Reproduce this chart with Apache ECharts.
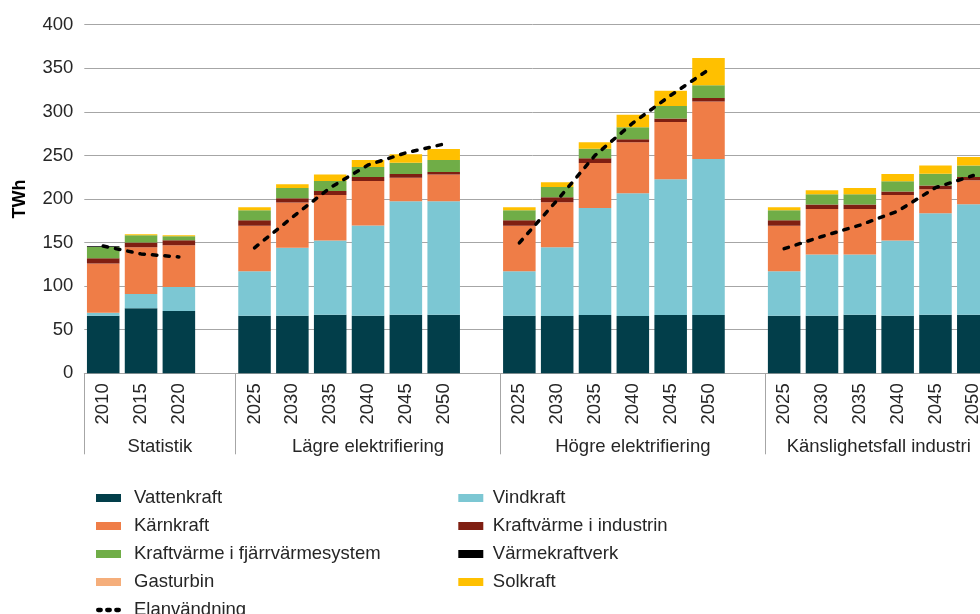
<!DOCTYPE html>
<html><head><meta charset="utf-8">
<script src="https://cdn.jsdelivr.net/npm/echarts@6/dist/echarts.min.js"></script>
<style>html,body{margin:0;padding:0;background:#fff}#c{width:980px;height:614px}</style>
</head><body><div id="c"></div>
<script>
// ---- data ----
const groupNames = ['Statistik', 'Lägre elektrifiering', 'Högre elektrifiering', 'Känslighetsfall industri'];
const groupYears = [
  ['2010', '2015', '2020'],
  ['2025', '2030', '2035', '2040', '2045', '2050'],
  ['2025', '2030', '2035', '2040', '2045', '2050'],
  ['2025', '2030', '2035', '2040', '2045', '2050']
];
// values per bar, groups in order (3 + 6 + 6 + 6)
const vattenkraft = [66, 74.5, 71.4,  66, 66, 67.2, 66, 67.2, 67.2,  66, 65.7, 66.8, 65.7, 66.8, 66.8,  66, 66, 67.2, 66, 67.2, 67.2];
const vindkraft   = [3.5, 16.5, 27.6,  51.2, 78, 85.2, 103.6, 130.2, 130.2,  51.2, 79, 123, 140.9, 155.8, 179.1,  51.2, 70.3, 69.1, 86.4, 116.5, 126.8];
const karnkraft   = [56.5, 53.7, 48,  52, 51.9, 52.3, 51.1, 27.1, 30.6,  52, 51.6, 51.6, 58.4, 65.7, 66.1,  52, 52.3, 52.3, 52.3, 27.5, 27.5];
const kvIndustri  = [6, 5.5, 5.7,  6.5, 5, 4.6, 4.6, 4.3, 3,  6.5, 5.7, 5.3, 3.5, 4.2, 3.8,  6.5, 5, 5, 3.8, 4.2, 3.8];
const kvFjarrvarme= [12.8, 8.3, 4.6,  11.4, 11.8, 11.4, 11.5, 12.9, 13.8,  11.4, 11.9, 11.1, 13.7, 14.2, 14.6,  11.4, 11.9, 11.9, 11.9, 13.7, 13];
const varmekraftverk = [1, 0, 0,  0, 0, 0, 0, 0, 0,  0, 0, 0, 0, 0, 0,  0, 0, 0, 0, 0, 0];
const gasturbin   = [0, 0, 0,  0, 0, 0, 0, 0, 0,  0, 0, 0, 0, 0, 0,  0, 0, 0, 0, 0, 0];
const solkraft    = [0, 1, 1,  3.5, 4.2, 7.3, 8, 9.6, 12.6,  3.5, 5.3, 7.2, 14.5, 17.5, 31.3,  3.5, 4.5, 7.2, 8.3, 9.2, 9.9];
const elanvandning= [146, 137, 133.5,  144, 179, 213, 239, 253, 263,  149.7, 198.6, 250, 287.2, 318.9, 348.3,  143, 157, 170, 186, 213, 227];
const yTicks = {min: 0, max: 400, step: 50};

// ---- build slots: each group followed by one empty slot (except the last) ----
const categories = [];
const boundaries = [];
const groupCenters = [];
function expand(arr) {
  const out = []; let k = 0;
  groupYears.forEach((g, gi) => { g.forEach(() => out.push(arr[k++])); if (gi < groupYears.length - 1) out.push('-'); });
  return out;
}
groupYears.forEach((g, gi) => {
  const start = categories.length;
  boundaries.push(start);
  g.forEach(y => categories.push(y));
  if (gi < groupYears.length - 1) categories.push('');
  groupCenters.push({v: (start + categories.length) / 2, name: groupNames[gi]});
});
const nSlots = categories.length;

const FONT = "'Liberation Sans', Arial, Helvetica, sans-serif";
const TXT = '#262626';
const GRID = '#a6a6a6';

const seriesDefs = [
  ['Vattenkraft', vattenkraft, '#023e4a'],
  ['Vindkraft', vindkraft, '#7cc7d3'],
  ['Kärnkraft', karnkraft, '#ef7d47'],
  ['Kraftvärme i industrin', kvIndustri, '#7f1f12'],
  ['Kraftvärme i fjärrvärmesystem', kvFjarrvarme, '#70ad47'],
  ['Värmekraftverk', varmekraftverk, '#000000'],
  ['Gasturbin', gasturbin, '#f5ae7b'],
  ['Solkraft', solkraft, '#ffc000']
];
const series = seriesDefs.map(([name, arr, color]) => ({
  name, type: 'bar', stack: 'total', data: expand(arr),
  barCategoryGap: '14%', itemStyle: {color}, xAxisIndex: 0, yAxisIndex: 0,
  emphasis: {disabled: true}
}));
series.push({
  name: 'Elanvändning', type: 'line', data: expand(elanvandning),
  symbol: 'none', connectNulls: false, xAxisIndex: 0, z: 5,
  lineStyle: {color: '#000', width: 3.5, type: [4.5, 8], cap: 'round'},
  itemStyle: {color: '#000'}
});

const dashIcon = 'path://M2.5,0h3a2.5,2.5 0 0 1 0,5h-3a2.5,2.5 0 0 1 0,-5z M13,0h3a2.5,2.5 0 0 1 0,5h-3a2.5,2.5 0 0 1 0,-5z M23.5,0h3a2.5,2.5 0 0 1 0,5h-3a2.5,2.5 0 0 1 0,-5z';

const legendText = {fontFamily: FONT, fontSize: 18.5, color: TXT, lineHeight: 18};
const legendCommon = {
  orient: 'vertical', padding: 0, itemWidth: 25, itemHeight: 8, itemGap: 9,
  height: 160, selectedMode: false, symbolKeepAspect: true
};

const SLOT = 37.83;
const option = {
  animation: false,
  backgroundColor: '#fff',
  grid: {left: 84.3, right: 980 - (84.3 + SLOT * nSlots), top: 24.7, bottom: 614 - 373.3,
    containLabel: false, outerBoundsMode: 'none'},
  legend: [
    Object.assign({}, legendCommon, {left: 96, top: 488.5,
      data: [{name: 'Vattenkraft', icon: 'rect'}, {name: 'Kärnkraft', icon: 'rect'}, {name: 'Kraftvärme i fjärrvärmesystem', icon: 'rect'}, {name: 'Gasturbin', icon: 'rect'},
        {name: 'Elanvändning', icon: dashIcon, itemStyle: {color: '#000', borderWidth: 0}}],
      textStyle: Object.assign({}, legendText, {padding: [0, 0, 0, 8]})}),
    Object.assign({}, legendCommon, {left: 458.3, top: 488.5,
      data: [{name: 'Vindkraft', icon: 'rect'}, {name: 'Kraftvärme i industrin', icon: 'rect'}, {name: 'Värmekraftverk', icon: 'rect'}, {name: 'Solkraft', icon: 'rect'}],
      textStyle: Object.assign({}, legendText, {padding: [0, 0, 0, 4.5]})})
  ],
  xAxis: [
    {
      type: 'category', data: categories, position: 'bottom', boundaryGap: true,
      axisLine: {show: true, lineStyle: {color: GRID, width: 1}},
      axisTick: {show: true, length: 81, lineStyle: {color: GRID, width: 1},
        interval: (i) => boundaries.indexOf(i) >= 0},
      axisLabel: {interval: 0, rotate: 90, margin: 10, fontFamily: FONT, fontSize: 18.5, color: TXT},
      splitLine: {show: false}
    },
    {
      type: 'value', position: 'bottom', min: 0, max: nSlots, interval: 0.5,
      axisLine: {show: false}, axisTick: {show: false}, splitLine: {show: false},
      axisLabel: {margin: 64, fontFamily: FONT, fontSize: 18.5, color: TXT, showMinLabel: true, showMaxLabel: true,
        formatter: (v) => { const g = groupCenters.find(c => Math.abs(c.v - v) < 1e-6); return g ? g.name : ''; }}
    }
  ],
  yAxis: {
    type: 'value', min: yTicks.min, max: yTicks.max, interval: yTicks.step,
    name: 'TWh', nameLocation: 'middle', nameRotate: 90, nameGap: 55,
    nameTextStyle: {fontFamily: FONT, fontSize: 18, fontWeight: 'bold', color: '#000'},
    axisLine: {show: false}, axisTick: {show: false},
    axisLabel: {margin: 11, fontFamily: FONT, fontSize: 18.5, color: TXT},
    splitLine: {show: true, lineStyle: {color: GRID, width: 1}}
  },
  series
};
const chart = echarts.init(document.getElementById('c'), null, {renderer: 'canvas'});
chart.setOption(option);
</script>
</body></html>
